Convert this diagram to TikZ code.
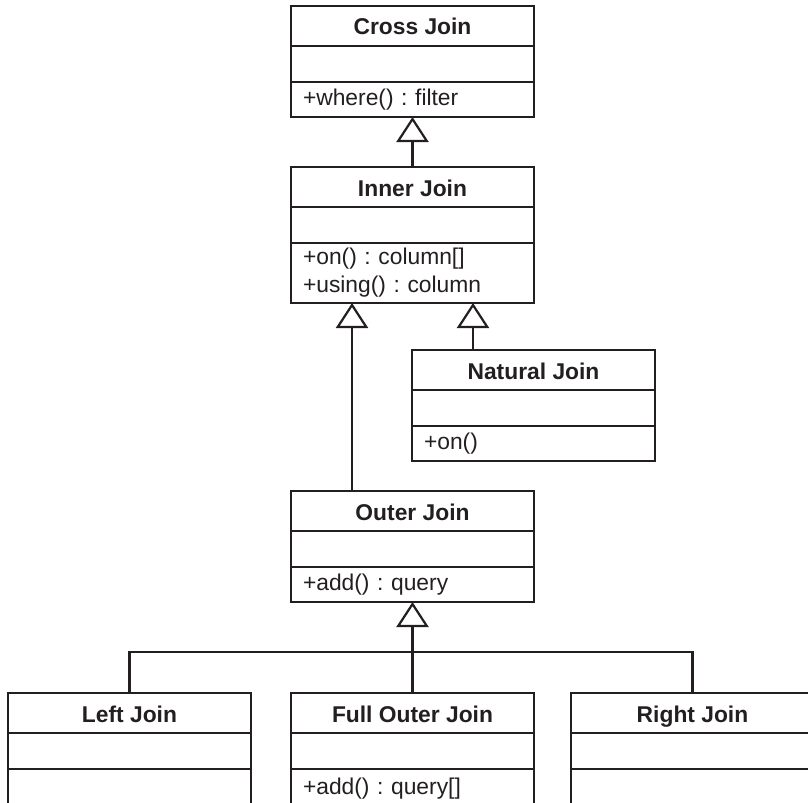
\documentclass[tikz,border=0pt]{standalone}
\usepackage{fontspec}
\setmainfont{Liberation Sans}
\usetikzlibrary{arrows.meta}
\definecolor{ink}{RGB}{35,31,32}
\tikzset{
 box/.style={draw=ink, line width=2.2bp, minimum width=243bp, inner sep=0pt, outer sep=0pt, text=ink, font=\fontsize{22.9}{28}\selectfont\frenchspacing},
 titlebox/.style={box, minimum height=40bp, text height=18bp, text depth=0bp, font=\fontsize{22.9}{28}\selectfont\bfseries},
 attrbox/.style={box, minimum height=36bp},
 methbox/.style={box, text width=219bp, inner xsep=12bp, align=left},
 inh/.style={draw=ink, line width=2.2bp, -{Triangle[open, length=25bp, width=32bp]}},
 link/.style={draw=ink, line width=2.2bp},
}
\newcommand\umlclass[6]{%
 \node[titlebox, anchor=north west] (#1) at (#2,#3) {#4};
 \node[attrbox, anchor=north] (#1-a) at (#1.south) {};
 \node[methbox, minimum height=#5, anchor=north] (#1-m) at (#1-a.south) {#6};
}
\begin{document}
\begin{tikzpicture}[x=1bp,y=-1bp]
\useasboundingbox (0,0) rectangle (808,803);
\clip (0,0) rectangle (808,803);
\umlclass{cross}{291}{6}{Cross Join}{35bp}{+where() : filter}
\umlclass{inner}{291}{167}{Inner Join}{60bp}{+on() : column[]\\+using() : column}
\umlclass{natural}{412}{350}{Natural Join}{35bp}{+on()}
\umlclass{outer}{291}{491}{Outer Join}{35bp}{+add() : query}
\umlclass{left}{8}{693}{Left Join}{40bp}{}
\umlclass{full}{291}{693}{Full Outer Join}{40bp}{+add() : query[]}
\umlclass{right}{571}{693}{Right Join}{40bp}{}
\coordinate (bus) at (full.north |- 0,652);
\draw[inh] (inner.north) -- (cross-m.south);
\draw[inh] ([xshift=61bp]natural.north west) -- ([xshift=61bp]natural.north west |- inner-m.south);
\draw[inh] ([xshift=61bp]outer.north west) -- ([xshift=61bp]outer.north west |- inner-m.south);
\draw[inh] (full.north) -- (outer-m.south);
\draw[link] (left.north) |- (bus) -| (right.north);
\end{tikzpicture}
\end{document}
